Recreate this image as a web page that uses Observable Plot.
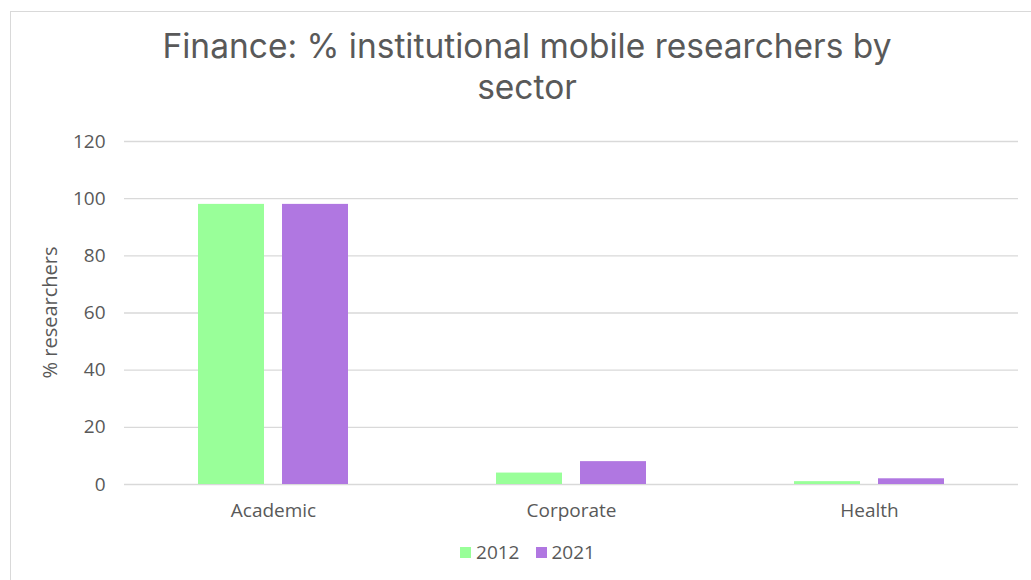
<!DOCTYPE html>
<html>
<head>
<meta charset="utf-8">
<script src="https://cdn.jsdelivr.net/npm/d3@7"></script>
<script src="https://cdn.jsdelivr.net/npm/@observablehq/plot@0.6"></script>
<style>
  html, body { margin: 0; padding: 0; background: #fff; }
  #wrap { position: relative; width: 1031px; height: 580px; overflow: hidden; font-family: "Open Sans", sans-serif; color: #595959; }
  #frame { position: absolute; left: 10px; top: 11px; width: 1040px; height: 600px; border: 1.5px solid #d9d9d9; box-sizing: border-box; }
  .title { position: absolute; left: 0; width: 1054px; text-align: center; font-family: Inter, "Open Sans", sans-serif; font-size: 33.5px; line-height: 33px; font-weight: 400; white-space: nowrap; }
  #t1 { top: 30px; }
  #t2 { top: 71px; }
  #chart { position: absolute; left: 0; top: 100px; }
  #legend { position: absolute; left: 0; top: 540px; width: 1031px; display: flex; justify-content: center; gap: 16px; font-size: 19px; line-height: 24px; margin-left: 12px; }
  .item { display: flex; align-items: center; gap: 5px; }
  .sw { width: 11px; height: 11px; display: inline-block; }
</style>
</head>
<body>
<div id="wrap">
  <div id="frame"></div>
  <div class="title" id="t1">Finance: % institutional mobile researchers by</div>
  <div class="title" id="t2">sector</div>
  <div id="chart"></div>
  <div id="legend"></div>
</div>
<script>
const sectors = ["Academic", "Corporate", "Health"];
const years = ["2012", "2021"];
const values2012 = [98, 4, 1];
const values2021 = [98, 8, 2];
const yTicks = [0, 20, 40, 60, 80, 100, 120];
const colors = ["#99ff99", "#b077e1"];

const data = [];
sectors.forEach((s, i) => {
  data.push({sector: s, year: years[0], value: values2012[i]});
  data.push({sector: s, year: years[1], value: values2021[i]});
});

const chart = Plot.plot({
  width: 1031,
  height: 430,
  marginLeft: 124,
  marginRight: 13,
  marginTop: 41,
  marginBottom: 46,
  style: { fontFamily: "Open Sans, sans-serif", fontSize: "19px", color: "#595959", background: "transparent" },
  fx: { domain: sectors, padding: 0, label: null, axis: null },
  x: { domain: years, paddingInner: 0.212, paddingOuter: 0.859, axis: null },
  y: { domain: [0, 120], ticks: yTicks, label: null, axis: null },
  color: { domain: years, range: colors },
  marks: [
    Plot.ruleY(yTicks, { stroke: "#d9d9d9", strokeWidth: 1.3 }),
    Plot.barY(data, { fx: "sector", x: "year", y: "value", fill: "year" }),
    Plot.axisY({ ticks: yTicks, tickSize: 0, tickPadding: 19, label: null, fill: "#595959", fontSize: 19 }),
    Plot.axisFx({ anchor: "bottom", tickSize: 0, tickPadding: 19, label: null, fill: "#595959", fontSize: 19 })
  ]
});
document.getElementById("chart").appendChild(chart);

const svg = d3.select(chart);
svg.append("text")
  .attr("transform", "translate(52," + (41 + (384 - 41) / 2) + ") rotate(-90)")
  .attr("text-anchor", "middle")
  .attr("dominant-baseline", "middle")
  .attr("fill", "#595959")
  .style("font-size", "20px")
  .text("% researchers");

const legend = d3.select("#legend");
years.forEach((y, i) => {
  const it = legend.append("div").attr("class", "item");
  it.append("span").attr("class", "sw").style("background", colors[i]);
  it.append("span").text(y);
});
</script>
</body>
</html>
